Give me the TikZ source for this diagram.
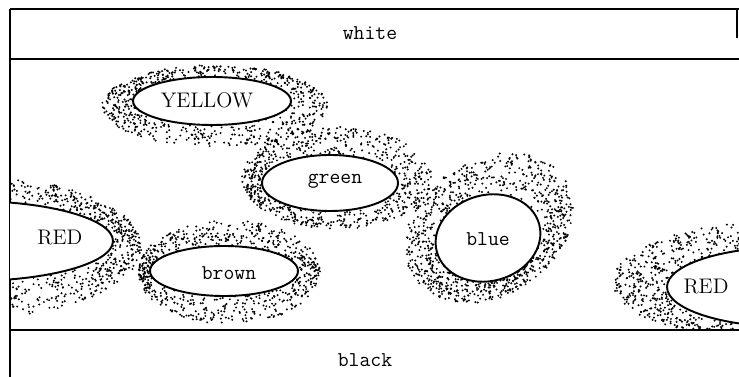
\documentclass[tikz,border=0pt]{standalone}
\usepackage{tikz}

% stippled ring between an inner and an outer ellipse
% #1,#2 inner centre, #3,#4 inner radii, #5,#6 outer centre, #7,#8 outer radii, #9 dots
\newcommand\halo[9]{%
  \foreach \k in {1,...,#9}{%
    \pgfmathsetmacro\ang{360*rnd}%
    \pgfmathsetmacro\frc{rnd^0.75}%
    \pgfmathsetmacro\ipx{#1+#3*cos(\ang)*cos(\irot)-#4*sin(\ang)*sin(\irot)}%
    \pgfmathsetmacro\ipy{#2-#3*cos(\ang)*sin(\irot)-#4*sin(\ang)*cos(\irot)}%
    \pgfmathsetmacro\opx{#5+#7*cos(\ang)*cos(\orot)-#8*sin(\ang)*sin(\orot)}%
    \pgfmathsetmacro\opy{#6-#7*cos(\ang)*sin(\orot)-#8*sin(\ang)*cos(\orot)}%
    \fill[dot] ({\ipx+\frc*(\opx-\ipx)},{\ipy+\frc*(\opy-\ipy)}) circle[radius=1.1];
  }}
\def\irot{0}\def\orot{0}

\begin{document}
\begin{tikzpicture}[
    x=0.02cm, y=-0.02cm,
    band/.style={line width=1.2pt},
    blob/.style={draw, fill=white, line width=1.1pt},
    dot/.style={fill=black},
    lbl/.style={font=\large},
    tlbl/.style={font=\large\ttfamily},
]
    \useasboundingbox (0,0) rectangle (739,377);
    \pgfmathsetseed{7}

    % bands
    \draw[band] (10,9) -- (739,9);
    \draw[band] (10,59) -- (739,59);
    \draw[band] (10,330) -- (739,330);
    \draw[band] (10,9) -- (10,377);
    \draw[band] (737,9) -- (737,38);
    \node[tlbl] (white) at (370,33) {white};
    \node[tlbl] (black) at (365,360) {black};

    \begin{scope}
        \clip (10,59) rectangle (739,330);
        % halos
        \halo{212}{101}{79}{24}{215}{106}{113}{41}{620}
        \halo{330}{183}{68}{28}{337}{178}{95}{51}{650}
        \halo{224}{271}{74}{25}{229}{272}{91}{52}{640}
        \halo{-30}{241}{143}{40}{-30}{247}{172}{71}{1250}
        \halo{790}{287}{123}{40}{790}{282}{177}{62}{1150}
        \def\irot{15}\def\orot{33}
        \halo{488}{238}{53}{43}{489}{228}{90}{68}{850}
        % blobs
        \draw[blob] (212,101) ellipse[x radius=79, y radius=24];
        \draw[blob] (330,183) ellipse[x radius=68, y radius=28];
        \draw[blob] (224,271) ellipse[x radius=74, y radius=25];
        \draw[blob] (-30,241) ellipse[x radius=143, y radius=40];
        \draw[blob] (790,287) ellipse[x radius=123, y radius=40];
        \draw[blob, rotate around={15:(488,238)}] (488,238) ellipse[x radius=53, y radius=43];
    \end{scope}

    \node[lbl] (yellow) at (207,100) {YELLOW};
    \node[tlbl] (green) at (335,181) {green};
    \node[tlbl] (brown) at (229,273) {brown};
    \node[tlbl] (blue) at (488,239) {blue};
    \node[lbl] (redL) at (60,238) {RED};
    \node[lbl] (redR) at (706,287) {RED};
\end{tikzpicture}
\end{document}
